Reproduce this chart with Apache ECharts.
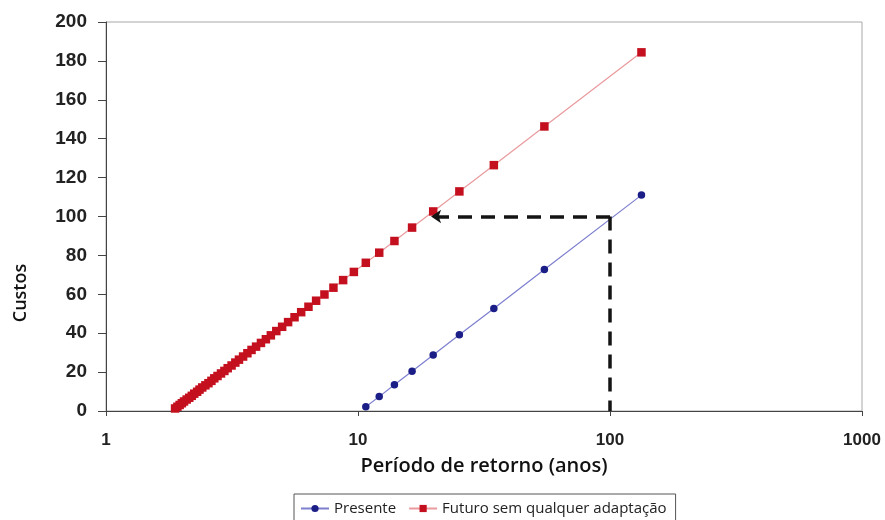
<!DOCTYPE html>
<html>
<head>
<meta charset="utf-8">
<title>Custos vs período de retorno</title>
<script src="https://cdn.jsdelivr.net/npm/echarts@6/dist/echarts.min.js"></script>
<style>
  html, body { margin: 0; padding: 0; background: #ffffff; }
  #chart { width: 885px; height: 520px; }
</style>
</head>
<body>
<div id="chart"></div>
<script>
// Return periods (years) and costs for the present situation
const presentPeriods = [10.74, 12.14, 13.95, 16.39, 19.88, 25.25, 34.6, 54.9, 133.3];
const presentCosts   = [2.2, 7.4, 13.5, 20.4, 28.8, 39.2, 52.7, 72.7, 111.0];

// Return periods (years) and costs for the future without any adaptation
const futurePeriods = [
  1.88, 1.92, 1.96, 2.00, 2.04, 2.09, 2.14, 2.19, 2.24, 2.30,
  2.35, 2.41, 2.48, 2.55, 2.62, 2.69, 2.77, 2.86, 2.95, 3.04,
  3.15, 3.26, 3.37, 3.50, 3.64, 3.78, 3.94, 4.12, 4.31, 4.51,
  4.74, 5.00, 5.28, 5.60, 5.95, 6.36, 6.82, 7.36, 7.99, 8.73,
  9.63, 10.74, 12.14, 13.95, 16.39, 19.88, 25.25, 34.6, 54.9, 133.3
];
const futureCosts = [
  1.3, 2.2, 3.1, 4.0, 4.9, 5.9, 6.8, 7.8, 8.9, 9.9,
  11.0, 12.1, 13.2, 14.3, 15.5, 16.8, 18.0, 19.3, 20.6, 22.0,
  23.4, 24.9, 26.4, 28.0, 29.7, 31.4, 33.1, 35.0, 36.9, 38.9,
  41.1, 43.3, 45.7, 48.2, 50.8, 53.6, 56.7, 59.9, 63.4, 67.3,
  71.5, 76.2, 81.4, 87.4, 94.3, 102.6, 112.9, 126.4, 146.3, 184.4
];

// Reading guide: present 100-year cost carried across to the future curve
const guideCorner = [100, 100];
const guideBase   = [100, 0];
const guideTarget = [19.5, 100];

const seriesNames = ['Presente', 'Futuro sem qualquer adaptação'];

const pairs = (xs, ys) => xs.map((x, i) => [x, ys[i]]);

const tickFont = {
  color: '#222',
  fontFamily: 'Liberation Sans, Arial, sans-serif',
  fontWeight: 'bold'
};

const chart = echarts.init(document.getElementById('chart'), null, { renderer: 'canvas' });

chart.setOption({
  animation: false,
  backgroundColor: '#ffffff',
  grid: {
    left: 106,
    right: 23,
    top: 22,
    bottom: 109,
    show: true,
    borderColor: '#a8a8a8',
    borderWidth: 1,
    backgroundColor: 'transparent'
  },
  xAxis: {
    type: 'log',
    logBase: 10,
    min: 1,
    max: 1000,
    name: 'Período de retorno (anos)',
    nameLocation: 'middle',
    nameGap: 45,
    nameTextStyle: {
      color: '#111',
      fontFamily: 'Open Sans, sans-serif',
      fontWeight: 600,
      fontSize: 20
    },
    axisLine: { show: true, lineStyle: { color: '#444', width: 1 } },
    axisTick: { show: true, inside: false, length: 5, lineStyle: { color: '#444' } },
    minorTick: { show: false },
    splitLine: { show: false },
    axisLabel: Object.assign({
      fontSize: 17,
      margin: 21,
      formatter: (v) => String(Math.round(v))
    }, tickFont)
  },
  yAxis: {
    type: 'value',
    min: 0,
    max: 200,
    interval: 20,
    axisLine: { show: true, lineStyle: { color: '#444', width: 1 } },
    axisTick: { show: true, inside: false, length: 8, lineStyle: { color: '#444' } },
    splitLine: { show: false },
    axisLabel: Object.assign({ fontSize: 19, margin: 19 }, tickFont)
  },
  legend: {
    data: seriesNames,
    left: 294,
    top: 494,
    orient: 'horizontal',
    padding: [7, 9, 7, 6],
    itemGap: 12,
    itemWidth: 28,
    itemHeight: 9,
    borderColor: '#555',
    borderWidth: 1,
    backgroundColor: '#fff',
    textStyle: {
      color: '#222',
      fontFamily: 'Open Sans, sans-serif',
      fontSize: 15
    }
  },
  graphic: [
    {
      type: 'text',
      x: 21,
      y: 293,
      rotation: Math.PI / 2,
      style: {
        text: 'Custos',
        fill: '#111',
        font: '600 18px "Open Sans", sans-serif',
        align: 'center',
        verticalAlign: 'middle'
      }
    }
  ],
  series: [
    {
      name: seriesNames[0],
      type: 'line',
      data: pairs(presentPeriods, presentCosts),
      symbol: 'circle',
      symbolSize: 7.5,
      itemStyle: { color: '#1b1e86' },
      lineStyle: { color: '#7d7fcf', width: 1.2 },
      z: 3
    },
    {
      name: seriesNames[1],
      type: 'line',
      data: pairs(futurePeriods, futureCosts),
      symbol: 'rect',
      symbolSize: 8.5,
      itemStyle: { color: '#c4101e' },
      lineStyle: { color: '#ea9a9e', width: 1.2 },
      z: 3
    },
    {
      type: 'line',
      data: [],
      silent: true,
      z: 4,
      markLine: {
        silent: true,
        animation: false,
        label: { show: false },
        symbolSize: 10,
        lineStyle: { color: '#141414', width: 3.5, type: [14, 9] },
        data: [
          [
            { coord: guideCorner, symbol: 'none' },
            { coord: guideBase, symbol: 'none' }
          ],
          [
            { coord: guideCorner, symbol: 'none' },
            { coord: guideTarget, symbol: 'arrow' }
          ]
        ]
      }
    }
  ]
});
</script>
</body>
</html>
